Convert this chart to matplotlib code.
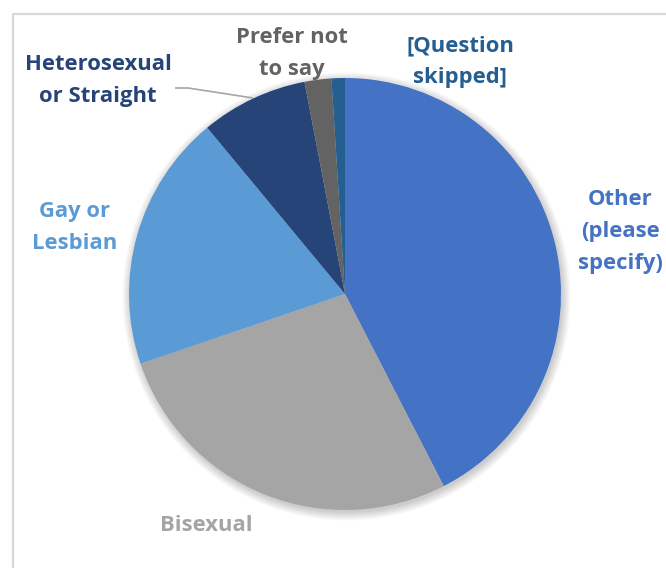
import matplotlib
matplotlib.use("Agg")
import matplotlib.pyplot as plt
from matplotlib.patches import Circle

categories = ["Other (please specify)", "Bisexual", "Gay or Lesbian",
              "Heterosexual or Straight", "Prefer not to say", "[Question skipped]"]
values = [42.4, 27.3, 19.2, 8.0, 2.0, 1.0]
colors = ["#4472C4", "#A5A5A5", "#5B9BD5", "#264478", "#636363", "#255E91"]
label_lines = [["Other", "(please", "specify)"], ["Bisexual"], ["Gay or", "Lesbian"],
               ["Heterosexual", "or Straight"], ["Prefer not", "to say"],
               ["[Question", "skipped]"]]

W, H = 666, 568
fig = plt.figure(figsize=(W / 100, H / 100), dpi=100)
ax = fig.add_axes([0, 0, 1, 1])

cx, cy, r = 345, 294, 216

# soft shadow
for i in range(10):
    ax.add_patch(Circle((cx + 1.5, cy + 2.5), r + 0.9 * i, color="black",
                        alpha=0.018, lw=0, zorder=0))

ax.pie(values, colors=colors, startangle=-90, counterclock=True,
       center=(cx, cy), radius=r, frame=True,
       wedgeprops=dict(linewidth=0.3, edgecolor="none", zorder=1))

# label placement (x center, first baseline), line step 32 px
label_pos = [(620, 205), (206, 531), (75, 217), (98, 70), (292, 43), (460, 51)]
font = dict(family=["Open Sans", "DejaVu Sans"], fontweight="bold", fontsize=15.8)
for lines, (x, y0), c in zip(label_lines, label_pos, colors):
    for k, t in enumerate(lines):
        ax.text(x, y0 + 32 * k, t, ha="center", va="baseline", color=c, **font)

# leader line for Heterosexual
ax.plot([175, 188, 253], [88, 88, 98], color="#A6A6A6", lw=1.2, zorder=0.5,
        solid_capstyle="butt")

# chart frame
ax.plot([13, 13, W + 5], [H + 5, 14, 14], color="#D9D9D9", lw=1.6, zorder=0)

ax.set_xlim(0, W)
ax.set_ylim(H, 0)
ax.set_aspect("auto")
ax.axis("off")
fig.savefig("out.png", dpi=100, facecolor="white")
